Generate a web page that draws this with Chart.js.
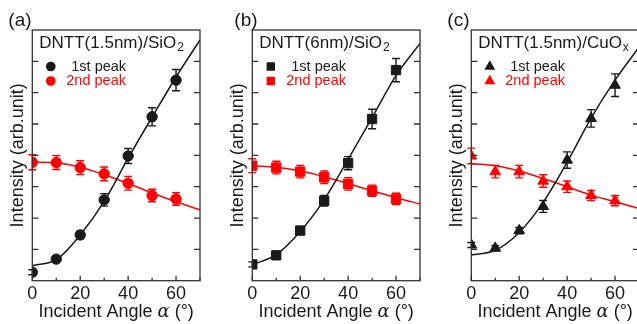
<!DOCTYPE html>
<html>
<head>
<meta charset="utf-8">
<script src="https://cdn.jsdelivr.net/npm/chart.js@4/dist/chart.umd.min.js"></script>
<style>
  html, body { margin: 0; padding: 0; background: #fff; overflow: hidden; }
  body { width: 637px; height: 324px; position: relative; }
  canvas { position: absolute; top: 0; }
</style>
</head>
<body>
<canvas id="panelA" width="220" height="324"></canvas>
<canvas id="panelB" width="220" height="324"></canvas>
<canvas id="panelC" width="220" height="324"></canvas>
<script>
// measured angles and fit sample angles (degrees)
const angles = [0, 10, 20, 30, 40, 50, 60];
const fitAngles = [0, 10, 20, 30, 40, 50, 60, 70];
const xTicks = [0, 20, 40, 60];
const xMinorTicks = [10, 30, 50, 70];
const yTicks = [1, 2, 3, 4, 5, 6, 7];

// (a) DNTT(1.5nm)/SiO2
const peak1A = [0.27, 0.69, 1.46, 2.58, 3.98, 5.23, 6.40];
const err1A  = [0.08, 0.09, 0.12, 0.20, 0.24, 0.29, 0.34];
const peak2A = [3.78, 3.77, 3.61, 3.41, 3.11, 2.72, 2.61];
const err2A  = [0.24, 0.22, 0.22, 0.22, 0.22, 0.20, 0.20];
const fit1A  = [0.48, 0.67, 1.46, 2.53, 3.91, 5.22, 6.50, 7.68];
const fit2A  = [3.78, 3.76, 3.62, 3.38, 3.10, 2.80, 2.52, 2.26];

// (b) DNTT(6nm)/SiO2
const peak1B = [0.52, 0.81, 1.60, 2.55, 3.75, 5.16, 6.72];
const err1B  = [0.08, 0.08, 0.13, 0.17, 0.21, 0.31, 0.37];
const peak2B = [3.67, 3.61, 3.48, 3.30, 3.09, 2.87, 2.61];
const err2B  = [0.22, 0.20, 0.20, 0.20, 0.20, 0.18, 0.18];
const fit1B  = [0.51, 0.83, 1.57, 2.58, 3.87, 5.20, 6.55, 7.57];
const fit2B  = [3.67, 3.62, 3.50, 3.32, 3.10, 2.87, 2.65, 2.45];

// (c) DNTT(1.5nm)/CuOx
const peak1C = [1.14, 1.04, 1.60, 2.37, 3.85, 5.18, 6.24];
const err1C  = [0.08, 0.08, 0.10, 0.19, 0.26, 0.28, 0.36];
const peak2C = [3.98, 3.48, 3.48, 3.18, 3.00, 2.72, 2.55];
const err2C  = [0.25, 0.20, 0.20, 0.20, 0.18, 0.16, 0.16];
const fit1C  = [0.82, 0.97, 1.54, 2.50, 3.78, 5.19, 6.40, 7.45];
const fit2C  = [3.73, 3.67, 3.50, 3.26, 3.00, 2.73, 2.52, 2.30];

const panelLetters = ['(a)', '(b)', '(c)'];
const legendTitles = ['DNTT(1.5nm)/SiO', 'DNTT(6nm)/SiO', 'DNTT(1.5nm)/CuO'];
const legendSubs = ['2', '2', 'x'];
const seriesNames = ['1st peak', '2nd peak'];
const markerStyles = ['circle', 'rect', 'triangle'];

const FONT = "'Liberation Sans', Arial, sans-serif";
const INK = '#1a1a1a';
const RED = '#ff0000';

// layout of the three panels
const canvasLeft = [0, 220, 439.4];
const letterOffset = [-24, -18, -24];
const markerRadius = { circle: 5.2, rect: 6.6, triangle: 6.2 };
const legendRadius = { circle: 4.2, rect: 5, triangle: 5 };

function pts(xs, ys) {
  return xs.map((x, i) => ({ x: x, y: ys[i] }));
}

// error bars with caps
const errorBars = {
  id: 'errorBars',
  afterDatasetsDraw(chart) {
    const ctx = chart.ctx;
    const ys = chart.scales.y;
    chart.data.datasets.forEach((ds, di) => {
      if (!ds.errors) return;
      const meta = chart.getDatasetMeta(di);
      ctx.save();
      ctx.strokeStyle = ds.borderColor;
      ctx.lineWidth = 1.4;
      meta.data.forEach((el, i) => {
        const v = ds.data[i].y, e = ds.errors[i];
        const top = ys.getPixelForValue(v + e);
        const bot = ys.getPixelForValue(v - e);
        ctx.beginPath();
        ctx.moveTo(el.x, top); ctx.lineTo(el.x, bot);
        ctx.moveTo(el.x - 4, top); ctx.lineTo(el.x + 4, top);
        ctx.moveTo(el.x - 4, bot); ctx.lineTo(el.x + 4, bot);
        ctx.stroke();
      });
      ctx.restore();
    });
  }
};

// box frame, inward ticks, x title, legend, panel letter
const decor = {
  id: 'decor',
  afterDraw(chart, args, opts) {
    const ctx = chart.ctx;
    const a = chart.chartArea;
    const xs = chart.scales.x, ys = chart.scales.y;
    ctx.save();
    ctx.strokeStyle = '#333';
    ctx.lineWidth = 1.3;
    ctx.strokeRect(a.left, a.top, a.right - a.left, a.bottom - a.top);
    ctx.beginPath();
    yTicks.forEach(v => {
      const y = ys.getPixelForValue(v);
      ctx.moveTo(a.left, y); ctx.lineTo(a.left + 6, y);
      ctx.moveTo(a.right, y); ctx.lineTo(a.right - 6, y);
    });
    xTicks.forEach(v => {
      const x = xs.getPixelForValue(v);
      ctx.moveTo(x, a.bottom); ctx.lineTo(x, a.bottom - 5);
    });
    xMinorTicks.forEach(v => {
      const x = xs.getPixelForValue(v);
      ctx.moveTo(x, a.bottom); ctx.lineTo(x, a.bottom - 3);
    });
    ctx.stroke();

    // x axis title with italic alpha
    ctx.fillStyle = INK;
    ctx.textBaseline = 'middle';
    const p1 = 'Incident Angle ', p2 = '\u03B1', p3 = ' (\u00B0)';
    ctx.font = '18px ' + FONT;
    const w1 = ctx.measureText(p1).width, w3 = ctx.measureText(p3).width;
    ctx.font = 'italic 18px DejaVu Serif, serif';
    const w2 = ctx.measureText(p2).width;
    let tx = (a.left + a.right) / 2 - (w1 + w2 + w3) / 2;
    const ty = 312;
    ctx.textAlign = 'left';
    ctx.font = '18px ' + FONT;
    ctx.fillText(p1, tx, ty);
    ctx.font = 'italic 18px DejaVu Serif, serif';
    ctx.fillText(p2, tx + w1, ty);
    ctx.font = '18px ' + FONT;
    ctx.fillText(p3, tx + w1 + w2, ty);

    // panel letter
    ctx.font = '19px ' + FONT;
    ctx.fillText(opts.letter, a.left + opts.letterDx, 21);

    // legend title with subscript
    ctx.font = '17px ' + FONT;
    const lx = a.left + 7;
    ctx.fillText(opts.title, lx, 43);
    const tw = ctx.measureText(opts.title).width;
    ctx.font = '12px ' + FONT;
    ctx.fillText(opts.sub, lx + tw + 1, 48);

    // legend entries
    const rows = [
      { y: 66.5, color: INK, text: seriesNames[0], dx: 39 },
      { y: 81, color: RED, text: seriesNames[1], dx: 34 }
    ];
    rows.forEach(r => {
      ctx.fillStyle = r.color;
      ctx.strokeStyle = r.color;
      Chart.helpers.drawPoint(ctx, {
        pointStyle: opts.marker, radius: legendRadius[opts.marker],
        rotation: 0, borderWidth: 1
      }, a.left + 18.5, r.y);
      ctx.font = '14.5px ' + FONT;
      ctx.fillText(r.text, a.left + r.dx, r.y);
    });
    ctx.restore();
  }
};

function makePanel(id, idx, p1, e1, p2, e2, f1, f2) {
  const el = document.getElementById(id);
  el.style.left = canvasLeft[idx] + 'px';
  const marker = markerStyles[idx];
  return new Chart(el, {
    type: 'scatter',
    data: {
      datasets: [
        { data: pts(angles, p1), errors: e1, borderColor: INK, backgroundColor: INK,
          pointStyle: marker, pointRadius: markerRadius[marker], borderWidth: 1, showLine: false },
        { data: pts(angles, p2), errors: e2, borderColor: RED, backgroundColor: RED,
          pointStyle: marker, pointRadius: markerRadius[marker], borderWidth: 1, showLine: false },
        { data: pts(fitAngles, f1), borderColor: INK, borderWidth: 1.5, pointRadius: 0,
          showLine: true, cubicInterpolationMode: 'monotone' },
        { data: pts(fitAngles, f2), borderColor: RED, borderWidth: 1.5, pointRadius: 0,
          showLine: true, cubicInterpolationMode: 'monotone' }
      ]
    },
    options: {
      responsive: false,
      animation: false,
      layout: { padding: { top: 30, right: 20, left: 0, bottom: 0 } },
      plugins: {
        legend: { display: false },
        tooltip: { enabled: false },
        decor: {
          letter: panelLetters[idx], letterDx: letterOffset[idx],
          title: legendTitles[idx], sub: legendSubs[idx], marker: marker
        }
      },
      scales: {
        x: {
          type: 'linear', min: 0, max: 70,
          grid: { display: false, drawTicks: false },
          border: { display: false },
          ticks: { color: INK, font: { size: 18, family: FONT }, padding: 3, maxRotation: 0 },
          afterBuildTicks: s => { s.ticks = xTicks.map(v => ({ value: v })); },
          afterFit: s => { s.height = 43.3; }
        },
        y: {
          min: 0, max: 8,
          grid: { display: false, drawTicks: false },
          border: { display: false },
          ticks: { display: false },
          title: { display: true, text: 'Intensity (arb.unit)', color: INK,
                   font: { size: 18, family: FONT }, padding: { top: 7 } },
          afterFit: s => { s.width = 32.3; }
        }
      }
    },
    plugins: [errorBars, decor]
  });
}

makePanel('panelA', 0, peak1A, err1A, peak2A, err2A, fit1A, fit2A);
makePanel('panelB', 1, peak1B, err1B, peak2B, err2B, fit1B, fit2B);
makePanel('panelC', 2, peak1C, err1C, peak2C, err2C, fit1C, fit2C);
</script>
</body>
</html>
